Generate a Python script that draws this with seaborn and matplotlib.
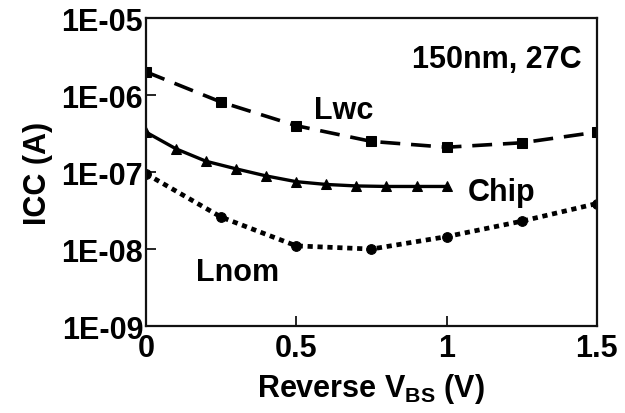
import numpy as np
import pandas as pd
import seaborn as sns
import matplotlib
matplotlib.use("Agg")
import matplotlib.pyplot as plt
from matplotlib.ticker import FixedLocator, FuncFormatter, NullLocator

# ---- data ----
lwc_v = [0.0, 0.25, 0.5, 0.75, 1.0, 1.25, 1.5]
lwc_i = [2.0e-6, 8.1e-7, 4.0e-7, 2.5e-7, 2.1e-7, 2.4e-7, 3.3e-7]

chip_v = [0.0, 0.1, 0.2, 0.3, 0.4, 0.5, 0.6, 0.7, 0.8, 0.9, 1.0]
chip_i = [3.3e-7, 2.0e-7, 1.38e-7, 1.1e-7, 8.9e-8, 7.5e-8, 6.9e-8, 6.6e-8, 6.5e-8, 6.5e-8, 6.5e-8]

lnom_v = [0.0, 0.25, 0.5, 0.75, 1.0, 1.25, 1.5]
lnom_i = [9.5e-8, 2.6e-8, 1.1e-8, 1.0e-8, 1.45e-8, 2.3e-8, 3.9e-8]

y_ticks = [1e-9, 1e-8, 1e-7, 1e-6, 1e-5]
x_ticks = [0, 0.5, 1, 1.5]
x_tick_labels = ["0", "0.5", "1", "1.5"]

sns.set_style("ticks")
plt.rcParams["font.family"] = ["Liberation Sans", "DejaVu Sans"]
plt.rcParams["font.weight"] = "bold"
plt.rcParams["text.color"] = "black"
plt.rcParams["axes.labelcolor"] = "black"
plt.rcParams["mathtext.fontset"] = "custom"
plt.rcParams["mathtext.rm"] = "Liberation Sans:bold"
plt.rcParams["mathtext.bf"] = "Liberation Sans:bold"
plt.rcParams["mathtext.it"] = "Liberation Sans:bold"

fig = plt.figure(figsize=(6.25, 4.14), dpi=100)
ax = fig.add_axes([0.2336, 0.210, 0.7214, 0.744])

FS = 22

sns.lineplot(x=lwc_v, y=lwc_i, ax=ax, color="black", marker="s", markersize=6.5,
             lw=2.6, markeredgecolor="black")
sns.lineplot(x=chip_v, y=chip_i, ax=ax, color="black", marker="^", markersize=7.5,
             lw=2.4, markeredgecolor="black")
sns.lineplot(x=lnom_v, y=lnom_i, ax=ax, color="black", marker="o", markersize=7,
             lw=3.4, markeredgecolor="black")

lines = ax.lines
lines[0].set_dashes((5.5, 3.0))
lines[2].set_dashes((1.1, 1.0))

ax.set_yscale("log")
ax.set_ylim(1e-9, 1e-5)
ax.set_xlim(0, 1.5)
ax.yaxis.set_major_locator(FixedLocator(y_ticks))
ax.yaxis.set_minor_locator(NullLocator())
ax.yaxis.set_major_formatter(FuncFormatter(lambda v, p: "1E-%02d" % int(round(-np.log10(v)))))
ax.set_xticks(x_ticks)
ax.set_xticklabels(x_tick_labels)

ax.tick_params(axis="both", direction="in", length=7, width=1.2, labelsize=FS,
               colors="black")
ax.tick_params(axis="x", pad=5)
ax.tick_params(axis="y", pad=2)
for lab in ax.get_xticklabels() + ax.get_yticklabels():
    lab.set_fontweight("bold")

for s in ax.spines.values():
    s.set_visible(True)
    s.set_linewidth(1.6)
    s.set_color("#111111")

ax.set_ylabel("ICC (A)", fontsize=FS, fontweight="bold", labelpad=6)
ax.set_xlabel(r"Reverse V$_{\mathrm{BS}}$ (V)", fontsize=FS, fontweight="bold", labelpad=6)

ax.text(1.45, 10**-5.53, "150nm, 27C", fontsize=FS, fontweight="bold", ha="right", va="center")
ax.text(0.56, 10**-6.19, "Lwc", fontsize=FS, fontweight="bold", ha="left", va="center")
ax.text(1.07, 10**-7.26, "Chip", fontsize=FS, fontweight="bold", ha="left", va="center")
ax.text(0.165, 10**-8.30, "Lnom", fontsize=FS, fontweight="bold", ha="left", va="center")

fig.savefig("out.png", dpi=100)
